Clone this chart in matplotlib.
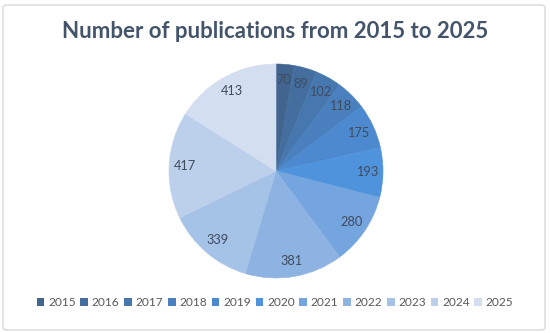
import matplotlib
matplotlib.use("Agg")
import matplotlib.pyplot as plt
from matplotlib.patches import FancyBboxPatch, Patch

years = ["2015", "2016", "2017", "2018", "2019", "2020", "2021", "2022", "2023", "2024", "2025"]
counts = [70, 89, 102, 118, 175, 193, 280, 381, 339, 417, 413]
colors = ["#41658F", "#436E9E", "#4677AE", "#4A80BE", "#4C89CE", "#4F93DD",
          "#74A5DF", "#8DB3E2", "#A5C2E7", "#BCD0EC", "#D3DEF1"]
title = "Number of publications from 2015 to 2025"

plt.rcParams['font.family'] = ['Lato', 'DejaVu Sans']

W, H = 550, 333
fig = plt.figure(figsize=(W / 100, H / 100), dpi=100)
fig.patch.set_facecolor("white")

frame = FancyBboxPatch((3 / W, 3 / H), 542 / W, 325 / H,
                       boxstyle="round,pad=0,rounding_size=0.008",
                       transform=fig.transFigure, facecolor="none",
                       edgecolor="#D9D9D9", linewidth=1.0, zorder=-1)
fig.patches.append(frame)

cx, cy, r = 276, 171, 107
ax = fig.add_axes([(cx - r) / W, (H - cy - r) / H, 2 * r / W, 2 * r / H])
wedges, texts = ax.pie(counts, colors=colors, startangle=90, counterclock=False,
                       labels=[str(c) for c in counts], labeldistance=0.85,
                       wedgeprops=dict(linewidth=0.4),
                       textprops=dict(color="#404B5E", fontsize=9.2))
for w in wedges:
    w.set_edgecolor(w.get_facecolor())
for t in texts:
    t.set_ha("center")
    t.set_va("center")
ax.set_xlim(-1, 1)
ax.set_ylim(-1, 1)
ax.set_aspect("equal")
ax.axis("off")

fig.text(0.5, 1 - 32 / H, title, ha="center", va="center",
         fontsize=16.0, fontweight="bold", color="#44546A")

handles = [Patch(facecolor=c, edgecolor="none") for c in colors]
fig.legend(handles, years, loc="center", bbox_to_anchor=(0.5, 1 - 303 / H),
           ncol=len(years), frameon=False, fontsize=8.6, labelcolor="#595959",
           handlelength=0.65, handleheight=0.65, handletextpad=0.3,
           columnspacing=0.4, borderpad=0, borderaxespad=0)

fig.savefig("out.png", dpi=100, facecolor="white")
